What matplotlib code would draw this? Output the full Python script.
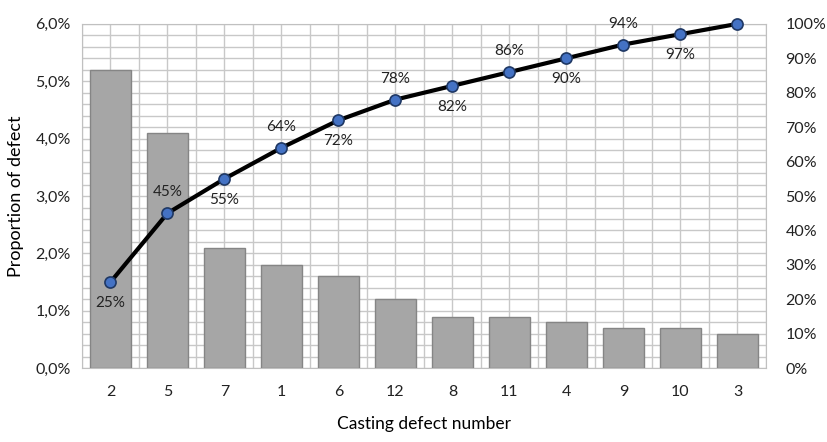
import numpy as np
import matplotlib.pyplot as plt
from matplotlib.ticker import FuncFormatter, MultipleLocator

plt.rcParams['font.family'] = ['Lato', 'DejaVu Sans']

defects = ['2', '5', '7', '1', '6', '12', '8', '11', '4', '9', '10', '3']
proportion = [5.2, 4.1, 2.1, 1.8, 1.6, 1.2, 0.9, 0.9, 0.8, 0.7, 0.7, 0.6]
cumulative = [25, 45, 55, 64, 72, 78, 82, 86, 90, 94, 97, 100]
label_pos = ['below', 'above', 'below', 'above', 'below', 'above',
             'below', 'above', 'below', 'above', 'below', None]

fig = plt.figure(figsize=(8.28, 4.42), dpi=100)
ax = fig.add_axes([0.099, 0.167, 0.826, 0.779])
x = np.arange(len(defects))

ax.bar(x, proportion, width=0.73, color='#a6a6a6', edgecolor='#858585',
       linewidth=1.0, zorder=3)
ax.set_xlim(-0.5, len(defects) - 0.5)
ax.set_ylim(0, 6)
ax.yaxis.set_major_locator(MultipleLocator(1))
ax.yaxis.set_minor_locator(MultipleLocator(0.2))
ax.yaxis.set_major_formatter(FuncFormatter(lambda v, p: f'{v:.1f}%'.replace('.', ',')))
ax.set_xticks(x)
ax.set_xticklabels(defects)
ax.set_xticks(np.arange(-0.5, len(defects), 1), minor=True)
ax.grid(True, which='both', color='#c8c8c8', linewidth=1.0, zorder=0)
ax.tick_params(which='both', length=0, labelsize=11.5, colors='#222222')
ax.tick_params(axis='x', pad=12)
ax.tick_params(axis='y', pad=8)
for s in ax.spines.values():
    s.set_color('#c0c0c0')
ax.set_ylabel('Proportion of defect', fontsize=13, labelpad=8)
ax.set_xlabel('Casting defect number', fontsize=12.5, labelpad=12)

ax2 = ax.twinx()
ax2.set_ylim(0, 100)
ax2.yaxis.set_major_locator(MultipleLocator(10))
ax2.yaxis.set_major_formatter(FuncFormatter(lambda v, p: f'{v:.0f}%'))
ax2.tick_params(length=0, labelsize=11.5, colors='#222222', pad=14)
for s in ax2.spines.values():
    s.set_visible(False)
ax2.plot(x, cumulative, color='black', linewidth=3, marker='o', markersize=8,
         markerfacecolor='#4472c4', markeredgecolor='#1f3864',
         markeredgewidth=1.2, zorder=5, clip_on=False)
for xi, c, pos in zip(x, cumulative, label_pos):
    if pos is None:
        continue
    dy = 10 if pos == 'above' else -10
    ax2.annotate(f'{c}%', (xi, c), xytext=(0, dy), textcoords='offset points',
                 ha='center', va='bottom' if pos == 'above' else 'top',
                 fontsize=11, color='#222222')

fig.savefig('out.png', dpi=100)
